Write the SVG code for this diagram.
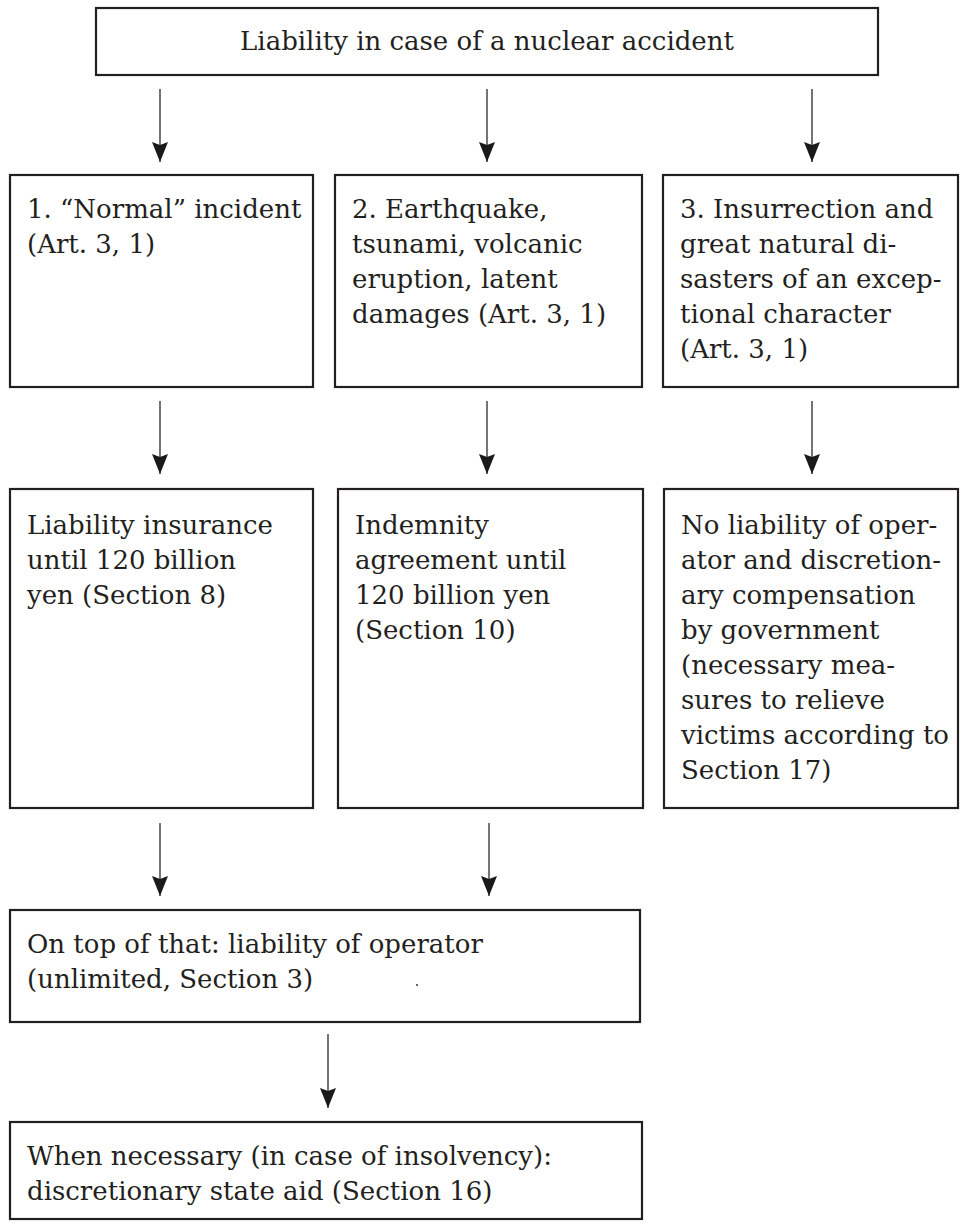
<svg xmlns="http://www.w3.org/2000/svg" width="961" height="1230" viewBox="0 0 961 1230">
<style>
  .box { fill: #ffffff; stroke: #231f20; stroke-width: 2.2; }
  .lbl { font-family: "DejaVu Serif", "Liberation Serif", serif; font-size: 26px; fill: #231f20; }
  .conn { stroke: #3a3a3a; stroke-width: 1.4; fill: none; marker-end: url(#arrow); }
</style>
<defs>
  <marker id="arrow" markerUnits="userSpaceOnUse" viewBox="0 0 20 16" refX="20" refY="8" markerWidth="20" markerHeight="16" orient="auto">
    <path d="M0,0 L20,8 L0,16 L3,8 z" fill="#1a1a1a"/>
  </marker>
</defs>
<rect x="0" y="0" width="961" height="1230" fill="#ffffff"/>

<g id="connectors">
  <line class="conn" x1="160" y1="89" x2="160" y2="162"/>
  <line class="conn" x1="487" y1="89" x2="487" y2="162"/>
  <line class="conn" x1="812" y1="89" x2="812" y2="162"/>
  <line class="conn" x1="160" y1="401" x2="160" y2="474"/>
  <line class="conn" x1="487" y1="401" x2="487" y2="474"/>
  <line class="conn" x1="812" y1="401" x2="812" y2="474"/>
  <line class="conn" x1="160" y1="823" x2="160" y2="896"/>
  <line class="conn" x1="489" y1="823" x2="489" y2="896"/>
  <line class="conn" x1="328" y1="1034" x2="328" y2="1108"/>
</g>

<g id="top">
  <rect class="box" x="96" y="8" width="782" height="67"/>
  <text class="lbl" x="487" y="50" text-anchor="middle">Liability in case of a nuclear accident</text>
</g>

<g id="case1">
  <rect class="box" x="10" y="175" width="303" height="212"/>
  <text class="lbl" x="27" y="218">1. “Normal” incident</text>
  <text class="lbl" x="27" y="253">(Art. 3, 1)</text>
</g>

<g id="case2">
  <rect class="box" x="335" y="175" width="307" height="212"/>
  <text class="lbl" x="352" y="218">2. Earthquake,</text>
  <text class="lbl" x="352" y="253">tsunami, volcanic</text>
  <text class="lbl" x="352" y="288">eruption, latent</text>
  <text class="lbl" x="352" y="323">damages (Art. 3, 1)</text>
</g>

<g id="case3">
  <rect class="box" x="663" y="175" width="295" height="212"/>
  <text class="lbl" x="680" y="218">3. Insurrection and</text>
  <text class="lbl" x="680" y="253">great natural di-</text>
  <text class="lbl" x="680" y="288">sasters of an excep-</text>
  <text class="lbl" x="680" y="323">tional character</text>
  <text class="lbl" x="680" y="358">(Art. 3, 1)</text>
</g>

<g id="insurance">
  <rect class="box" x="10" y="489" width="303" height="319"/>
  <text class="lbl" x="27" y="534">Liability insurance</text>
  <text class="lbl" x="27" y="569">until 120 billion</text>
  <text class="lbl" x="27" y="604">yen (Section 8)</text>
</g>

<g id="indemnity">
  <rect class="box" x="338" y="489" width="305" height="319"/>
  <text class="lbl" x="355" y="534">Indemnity</text>
  <text class="lbl" x="355" y="569">agreement until</text>
  <text class="lbl" x="355" y="604">120 billion yen</text>
  <text class="lbl" x="355" y="639">(Section 10)</text>
</g>

<g id="noliability">
  <rect class="box" x="664" y="489" width="294" height="319"/>
  <text class="lbl" x="681" y="534">No liability of oper-</text>
  <text class="lbl" x="681" y="569">ator and discretion-</text>
  <text class="lbl" x="681" y="604">ary compensation</text>
  <text class="lbl" x="681" y="639">by government</text>
  <text class="lbl" x="681" y="674">(necessary mea-</text>
  <text class="lbl" x="681" y="709">sures to relieve</text>
  <text class="lbl" x="681" y="744">victims according to</text>
  <text class="lbl" x="681" y="779">Section 17)</text>
</g>

<g id="operator">
  <rect class="box" x="10" y="910" width="630" height="112"/>
  <text class="lbl" x="27" y="953">On top of that: liability of operator</text>
  <text class="lbl" x="27" y="988">(unlimited, Section 3)</text>
  <circle cx="417" cy="985" r="0.9" fill="#231f20"/>
</g>

<g id="stateaid">
  <rect class="box" x="10" y="1122" width="632" height="97"/>
  <text class="lbl" x="27" y="1165">When necessary (in case of insolvency):</text>
  <text class="lbl" x="27" y="1200">discretionary state aid (Section 16)</text>
</g>
</svg>
